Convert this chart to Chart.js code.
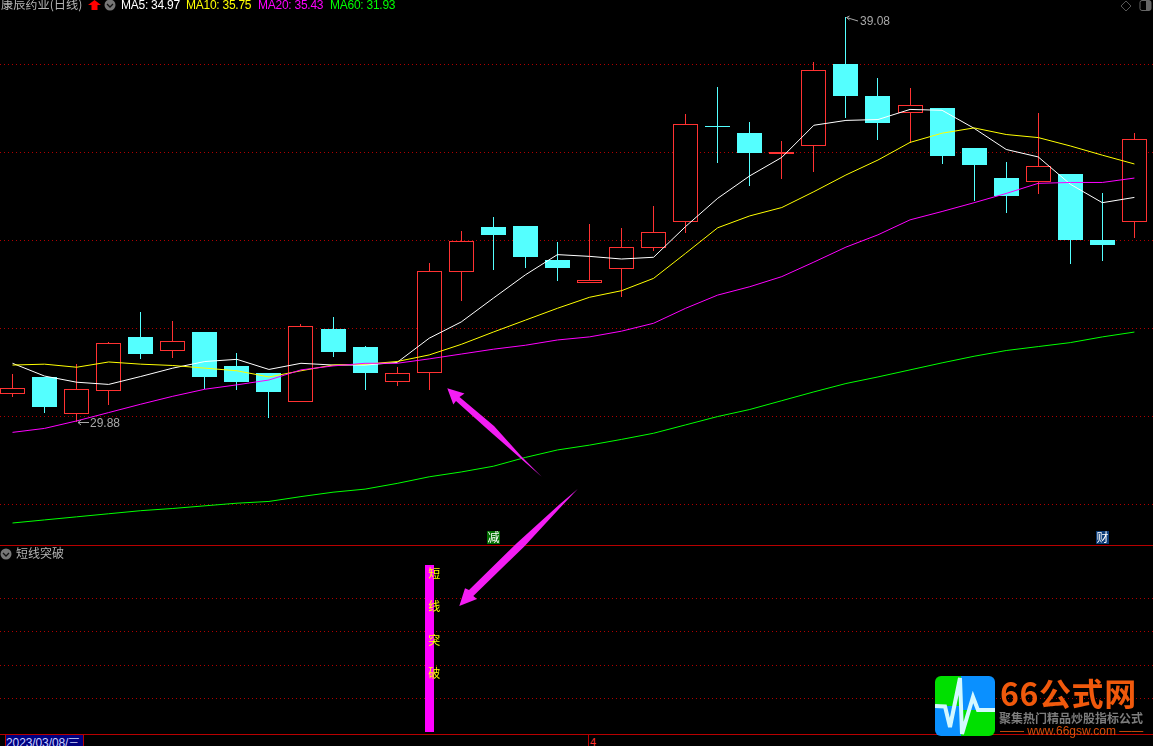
<!DOCTYPE html>
<html>
<head>
<meta charset="utf-8">
<title>康辰药业(日线)</title>
<script src="https://cdn.jsdelivr.net/npm/chart.js"></script>
<style>
  html, body { margin: 0; padding: 0; background: #000; width: 1153px; height: 746px; overflow: hidden; }
  body { position: relative; font-family: "Noto Sans CJK SC", sans-serif; }
  canvas, svg { position: absolute; left: 0; }
  #main-chart { top: 0; }
  #sub-chart { top: 546px; }
  .txt { position: absolute; white-space: nowrap; line-height: 1; }
  .ma { font: 12px "Liberation Sans", sans-serif; top: -1px; letter-spacing: -0.25px; line-height: 12px; }
  .rule { position: absolute; left: 0; width: 1153px; height: 1px; background: #b80000; }
</style>
</head>
<body>
<canvas id="main-chart" width="1153" height="545"></canvas>
<canvas id="sub-chart" width="1153" height="188"></canvas>

<div class="rule" style="top:545px"></div>
<div class="rule" style="top:734px"></div>

<!-- header -->
<div class="txt" style="left:1px;top:-2px;font-size:12.2px;color:#b4b4b4">康辰药业(日线)</div>
<div class="txt ma" style="left:121px;color:#fff">MA5: 34.97</div>
<div class="txt ma" style="left:186px;color:#ff0">MA10: 35.75</div>
<div class="txt ma" style="left:258px;color:#f0f">MA20: 35.43</div>
<div class="txt ma" style="left:330px;color:#0f0">MA60: 31.93</div>
<div class="txt" style="left:16px;top:547px;font-size:12px;color:#b4b4b4">短线突破</div>

<!-- status bar -->
<div class="txt" style="left:5px;top:735px;width:77px;height:11px;background:#000080;border-left:1px solid #b80000;border-right:1px solid #b80000;font:12px 'Liberation Sans',sans-serif;color:#c8d0ff;overflow:hidden;letter-spacing:-0.1px">2023/03/08/三</div>
<div class="txt" style="left:588px;top:735px;width:1px;height:11px;background:#b80000"></div>
<div class="txt" style="left:590px;top:736px;font:11px 'Liberation Sans',sans-serif;color:#ff3232">4</div>

<svg width="1153" height="746" viewBox="0 0 1153 746" style="top:0">
  <!-- icons -->
  <polygon points="94.5,0 101,5 97.5,5 97.5,10 91.5,10 91.5,5 88,5" fill="#f00"/>
  <circle cx="110" cy="5" r="5.5" fill="#777"/>
  <polyline points="107,4 110,7 113,4" fill="none" stroke="#111" stroke-width="1.3"/>
  <polygon points="1126,1 1131,6 1126,11 1121,6" fill="none" stroke="#555"/>
  <rect x="1140" y="0.5" width="11" height="10" rx="2" fill="none" stroke="#666"/>
  <rect x="1146" y="1" width="5" height="9" fill="#666"/>
  <circle cx="6" cy="554" r="5.5" fill="#777"/>
  <polyline points="3,553 6,556 9,553" fill="none" stroke="#111" stroke-width="1.3"/>
  <!-- hand drawn arrows -->
  <polygon points="447.3,388.3 464.5,393.5 459.5,397 494,426 521,456 541.7,476.7 519.3,457.3 488.3,430 456,401 453.3,404.5" fill="#f31df3"/>
  <polygon points="459.3,606 465,588.3 469,590 516.7,543.3 560,504 577.7,489 561.7,506 524,546.7 473.3,596 477,599" fill="#f31df3"/>
  <!-- logo -->
  <clipPath id="logo-clip"><rect x="935" y="676" width="60" height="60" rx="6"/></clipPath>
  <g clip-path="url(#logo-clip)">
    <rect x="935" y="676" width="26" height="30" fill="#00e000"/>
    <rect x="961" y="676" width="34" height="34" fill="#0a90ff"/>
    <rect x="935" y="706" width="26" height="30" fill="#0a90ff"/>
    <rect x="961" y="710" width="34" height="26" fill="#00e000"/>
    <polyline points="935,706 945,706.5 950,727 960,678 962,734 973,697 978,710 995,710" fill="none" stroke="#d4f8ff" stroke-width="4"/>
  </g>
</svg>
<div class="txt" style="left:1000px;top:670px;font-size:32px;font-weight:700;color:#f0590c;letter-spacing:0.6px;line-height:44px">66公式网</div>
<div class="txt" style="left:999px;top:711px;font-size:12px;font-weight:700;color:#7d7d7d;line-height:14px">聚集热门精品炒股指标公式</div>
<div class="txt" style="left:1000px;top:724px;font:12px 'Liberation Sans',sans-serif;color:#d8500c;line-height:14px">—— www.66gsw.com ——</div>

<script>
// daily bars
const opens = [30.53,30.91,30.07,30.60,31.82,31.51,31.93,31.16,31.00,30.35,32.00,31.59,30.80,31.00,33.30,34.32,34.34,33.57,33.05,33.37,33.85,34.44,36.61,36.45,35.98,36.17,38.02,37.30,36.92,37.02,36.11,35.43,35.33,35.52,34.02,34.42];
const highs = [30.98,30.91,31.20,31.70,32.39,32.18,31.93,31.45,31.00,32.11,32.27,31.61,31.14,33.50,34.23,34.55,34.34,33.98,34.39,34.30,34.80,36.89,37.50,36.70,36.27,38.07,39.08,37.70,37.48,37.02,36.11,35.80,36.91,35.52,35.09,36.45];
const lows = [30.46,30.10,29.88,30.27,31.32,31.35,30.63,30.61,29.98,30.35,31.36,30.61,30.70,30.61,32.64,33.33,33.39,33.10,33.05,32.73,33.78,34.17,35.78,35.25,35.41,35.57,36.80,36.30,36.22,35.75,34.91,34.64,35.07,33.48,33.55,34.07];
const closes = [30.65,30.23,30.63,31.67,31.43,31.72,30.91,30.80,30.57,32.06,31.48,31.00,30.99,33.32,33.99,34.14,33.64,33.39,33.11,33.86,34.20,36.67,36.59,36.00,36.02,37.88,37.30,36.68,37.08,35.93,35.73,35.02,35.70,34.02,33.91,36.31];

const ma5 = [31.22,30.93,30.79,30.74,30.92,31.11,31.26,31.31,31.08,31.22,31.18,31.18,31.24,31.79,32.16,32.70,33.23,33.69,33.65,33.59,33.63,34.33,34.97,35.48,35.90,36.63,36.74,36.76,36.99,36.97,36.56,36.08,35.91,35.29,34.87,34.99];
const ma10 = [31.18,31.20,31.13,31.25,31.20,31.17,31.11,31.05,30.91,31.05,31.18,31.20,31.26,31.41,31.65,31.93,32.20,32.47,32.72,32.87,33.15,33.72,34.30,34.57,34.76,35.12,35.50,35.84,36.24,36.45,36.57,36.42,36.35,36.16,35.95,35.75];
const ma20 = [29.65,29.74,29.91,30.10,30.29,30.47,30.63,30.73,30.84,31.07,31.16,31.22,31.22,31.32,31.43,31.54,31.63,31.75,31.82,31.95,32.13,32.47,32.77,32.96,33.19,33.52,33.86,34.14,34.48,34.67,34.87,35.08,35.31,35.33,35.33,35.43];
const ma60 = [27.59,27.66,27.73,27.80,27.87,27.92,27.98,28.04,28.08,28.19,28.29,28.36,28.49,28.64,28.75,28.88,29.08,29.25,29.36,29.49,29.63,29.82,30.01,30.17,30.37,30.57,30.76,30.91,31.07,31.23,31.38,31.51,31.60,31.69,31.82,31.93];

const priceTicks = [28, 30, 32, 34, 36, 38];

// 短线突破 panel
const signal = ma5.map((_, i) => (i === 13 ? 100 : null));
const signalTicks = [20, 40, 60, 80];
const signalWords = ['短', '线', '突', '破'];
const signalWordLevels = [95, 75, 55, 35];

// news flags under the candles: [bar index, text, colour]
const eventIndex = [15, 34];
const eventText = ['减', '财'];
const eventColor = ['#006e00', '#0b3c78'];

const indexes = opens.map((_, i) => i);
const UP = '#ff3232';
const DOWN = '#54ffff';
const GRID = '#b00000';

// the source draws on whole pixels, so snap the bars too
const snapBars = {
    id: 'snapBars',
    beforeDatasetsDraw(chart) {
        chart.data.datasets.forEach((ds, i) => {
            if (ds.type !== 'bar') return;
            chart.getDatasetMeta(i).data.forEach(el => {
                el.x = Math.floor(el.x) + 0.5;
                el.y = Math.round(el.y);
                el.base = Math.round(el.base);
            });
        });
    }
};

const extremes = {
    id: 'extremes',
    afterDatasetsDraw(chart) {
        const { ctx, scales: { x, y } } = chart;
        const hi = highs.indexOf(Math.max(...highs));
        const lo = lows.indexOf(Math.min(...lows));
        ctx.save();
        ctx.font = '12px "Liberation Sans", sans-serif';
        ctx.textBaseline = 'middle';
        ctx.fillStyle = '#a8a8a8';
        ctx.strokeStyle = '#a8a8a8';
        ctx.lineWidth = 1;

        const hx = Math.round(x.getPixelForValue(hi)), hy = Math.round(y.getPixelForValue(highs[hi]));
        ctx.beginPath();
        ctx.moveTo(hx + 0.5, hy + 0.5); ctx.lineTo(hx + 3.5, hy - 1);
        ctx.moveTo(hx + 0.5, hy + 0.5); ctx.lineTo(hx + 3.5, hy + 3);
        ctx.moveTo(hx + 0.5, hy + 0.5); ctx.lineTo(hx + 12, hy + 4);
        ctx.stroke();
        ctx.fillText(highs[hi].toFixed(2), hx + 14, hy + 4.5);

        const lx = Math.round(x.getPixelForValue(lo)), ly = Math.round(y.getPixelForValue(lows[lo]));
        ctx.beginPath();
        ctx.moveTo(lx + 1, ly + 0.5); ctx.lineTo(lx + 12, ly + 0.5);
        ctx.moveTo(lx + 1, ly + 0.5); ctx.lineTo(lx + 4, ly - 2);
        ctx.moveTo(lx + 1, ly + 0.5); ctx.lineTo(lx + 4, ly + 3);
        ctx.stroke();
        ctx.fillText(lows[lo].toFixed(2), lx + 13, ly + 1.5);

        // flags sit on the bottom edge of the panel
        ctx.font = '12px "Noto Sans CJK SC", sans-serif';
        ctx.textAlign = 'center';
        eventIndex.forEach((bar, i) => {
            const ex = Math.round(x.getPixelForValue(bar));
            ctx.fillStyle = eventColor[i];
            ctx.fillRect(ex - 6, chart.height - 14, 13, 13);
            ctx.fillStyle = '#fff';
            ctx.fillText(eventText[i], ex + 0.5, chart.height - 7.5);
        });
        ctx.restore();
    }
};

const signalText = {
    id: 'signalText',
    afterDatasetsDraw(chart) {
        const { ctx, scales: { x, y } } = chart;
        ctx.save();
        ctx.font = '12px "Noto Sans CJK SC", sans-serif';
        ctx.fillStyle = '#ff0';
        ctx.textAlign = 'center';
        ctx.textBaseline = 'middle';
        signalWords.forEach((word, i) => {
            ctx.fillText(word, x.getPixelForValue(13) + 5, y.getPixelForValue(signalWordLevels[i]));
        });
        ctx.restore();
    }
};

const xAxis = { type: 'linear', display: false, offset: false, min: -0.39, max: 35.58 };

const hiddenY = (min, max, ticks) => ({
    min: min,
    max: max,
    afterBuildTicks: axis => { axis.ticks = ticks.map(v => ({ value: v })); },
    afterFit: axis => { axis.width = 0; },
    border: { display: false, dash: [1, 3] },
    ticks: { display: false },
    grid: { color: GRID, lineWidth: 1, drawTicks: false }
});

const maLine = (values, color, order) => ({
    type: 'line',
    data: values.map((v, i) => ({ x: i, y: v })),
    borderColor: color,
    borderWidth: 1,
    pointRadius: 0,
    tension: 0,
    order: order
});

new Chart(document.getElementById('main-chart'), {
    data: {
        datasets: [
            {
                type: 'bar',
                data: indexes.map(i => ({ x: i, y: [lows[i], highs[i]] })),
                backgroundColor: indexes.map(i => (closes[i] >= opens[i] ? UP : DOWN)),
                barThickness: 1,
                inflateAmount: 0,
                grouped: false,
                order: 6
            },
            {
                type: 'bar',
                data: indexes.map(i => ({ x: i, y: [opens[i], closes[i]] })),
                backgroundColor: indexes.map(i => (closes[i] >= opens[i] ? '#000' : DOWN)),
                borderColor: indexes.map(i => (closes[i] >= opens[i] ? UP : DOWN)),
                borderWidth: 1,
                borderSkipped: false,
                barThickness: 25,
                inflateAmount: 0,
                grouped: false,
                order: 5
            },
            maLine(ma5, '#ffffff', 4),
            maLine(ma10, '#ffff00', 3),
            maLine(ma20, '#ff00ff', 2),
            maLine(ma60, '#00ff00', 1)
        ]
    },
    options: {
        responsive: false,
        animation: false,
        layout: { padding: 0 },
        plugins: { legend: { display: false }, tooltip: { enabled: false } },
        scales: { x: xAxis, y: hiddenY(27.09, 39.477, priceTicks) }
    },
    plugins: [snapBars, extremes]
});

new Chart(document.getElementById('sub-chart'), {
    data: {
        datasets: [{
            type: 'bar',
            data: signal.map((v, i) => ({ x: i, y: v })),
            backgroundColor: '#ff00ff',
            inflateAmount: 0,
            barThickness: 9
        }]
    },
    options: {
        responsive: false,
        animation: false,
        layout: { padding: 0 },
        plugins: { legend: { display: false }, tooltip: { enabled: false } },
        scales: { x: xAxis, y: hiddenY(-1.2, 111.4, signalTicks) }
    },
    plugins: [snapBars, signalText]
});
</script>
</body>
</html>
